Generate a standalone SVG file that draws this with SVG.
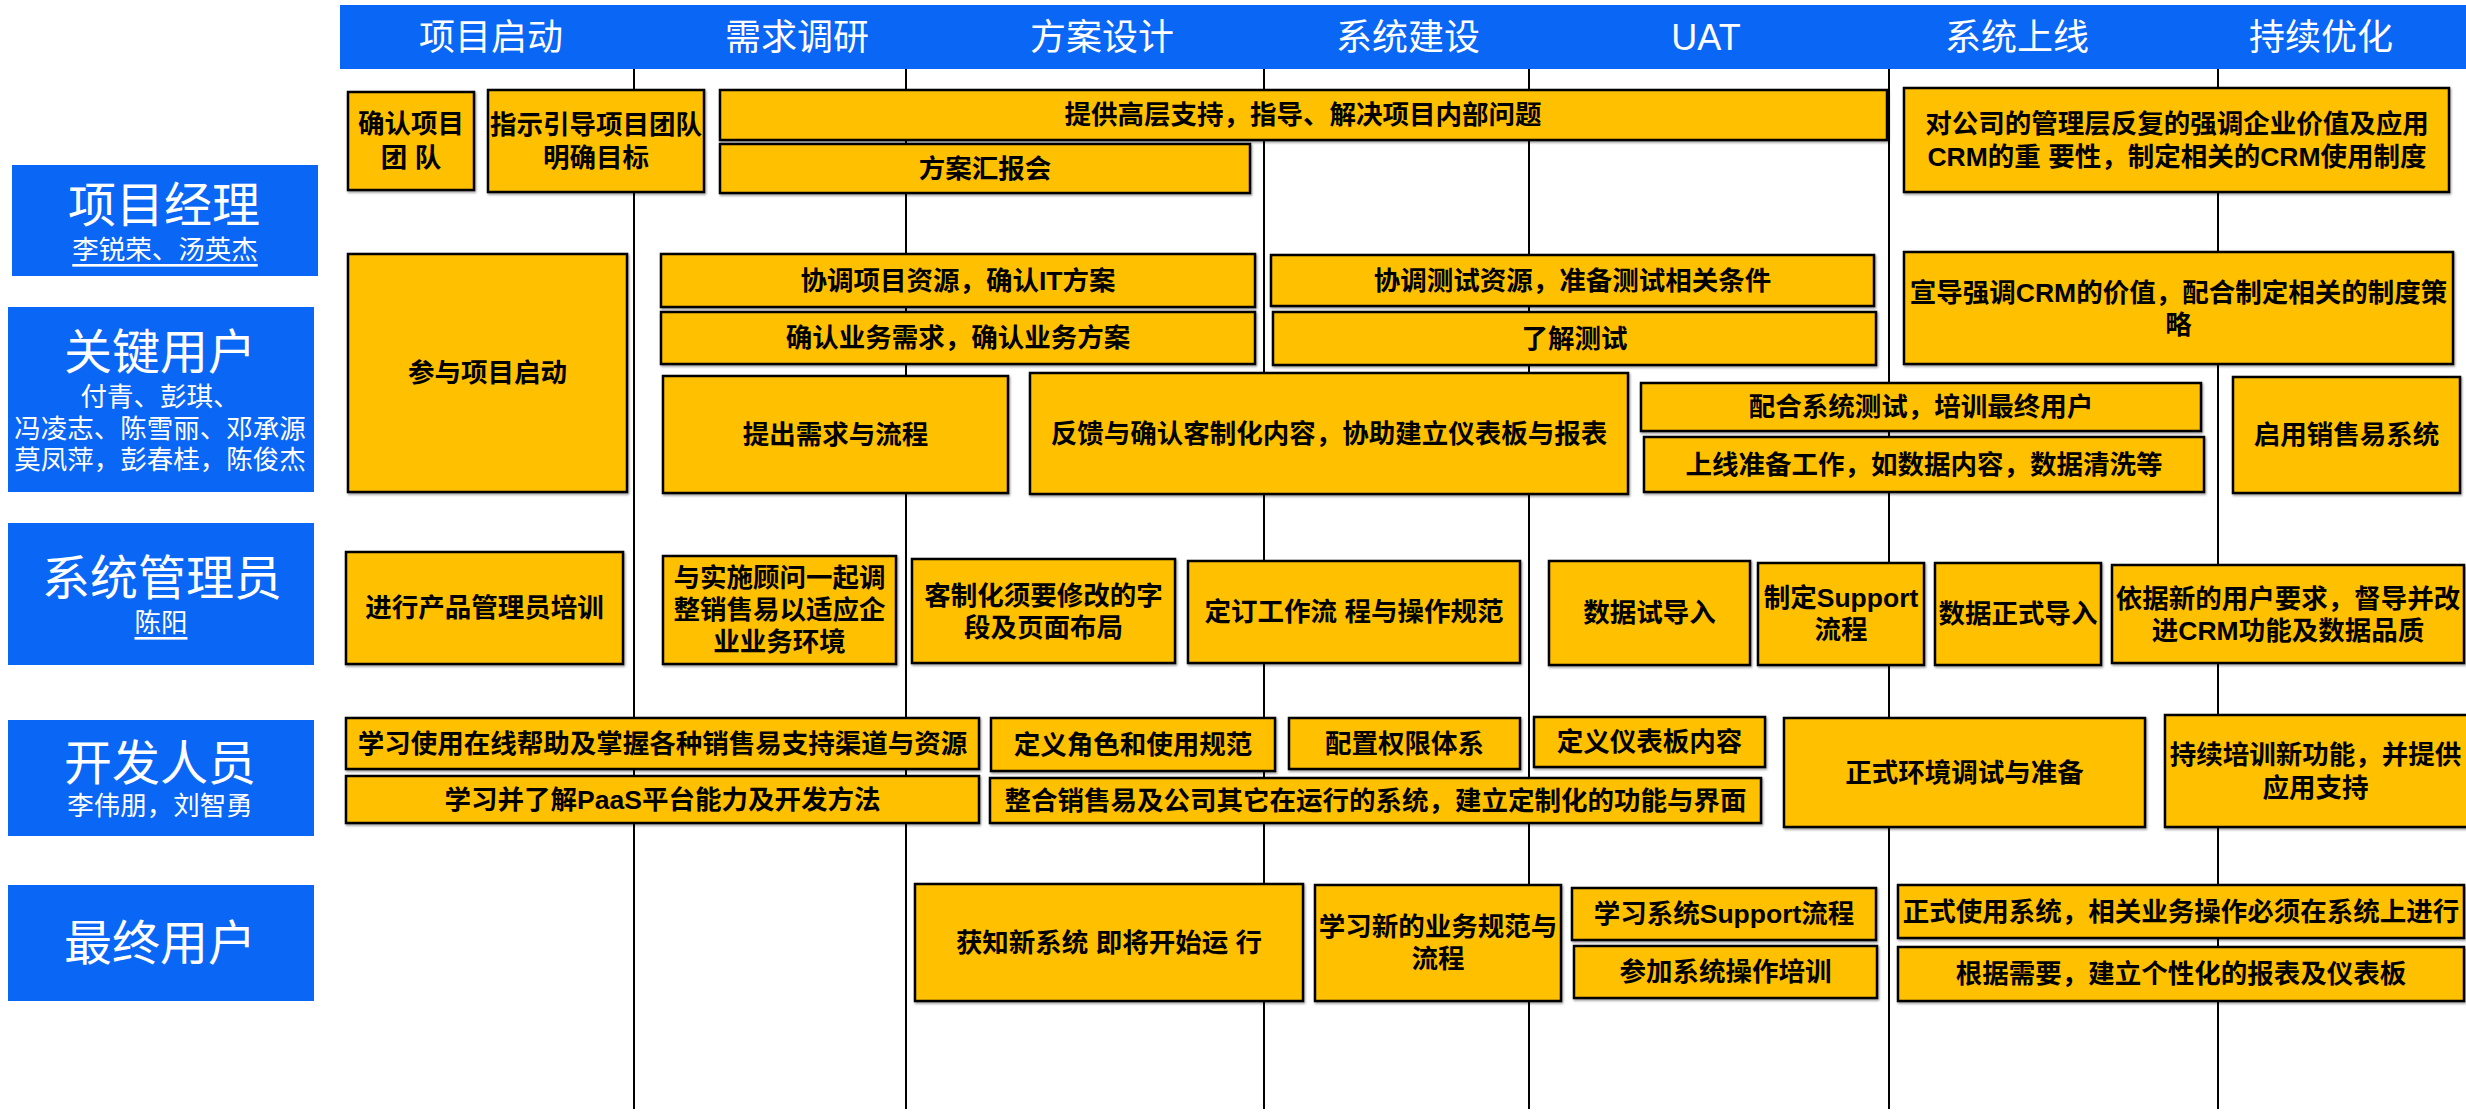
<svg xmlns="http://www.w3.org/2000/svg" width="2466" height="1115" viewBox="0 0 2466 1115">
<defs>
<filter id="sh" x="-5%" y="-5%" width="110%" height="120%">
<feDropShadow dx="1" dy="1.5" stdDeviation="0.8" flood-color="#000" flood-opacity="0.4"/>
</filter>
</defs>
<style>
.hdr{fill:#0A66F5}
.ht{fill:#fff;font-family:"Liberation Sans","Noto Sans CJK SC",sans-serif;font-size:36px;text-anchor:middle;dominant-baseline:central}
.lbl{fill:#0A66F5}
.lt{fill:#fff;font-family:"Liberation Sans","Noto Sans CJK SC",sans-serif;font-size:48px;text-anchor:middle;dominant-baseline:central}
.ln{fill:#fff;font-family:"Liberation Sans","Noto Sans CJK SC",sans-serif;font-size:26.5px;text-anchor:middle;dominant-baseline:central}
.u{text-decoration:underline}
.vl{stroke:#000;stroke-width:2;fill:none}
.box{fill:#FFC000;stroke:#000;stroke-width:2.5;filter:url(#sh)}
.bt{fill:#000;font-family:"Liberation Sans","Noto Sans CJK SC",sans-serif;font-weight:bold;font-size:26.5px;text-anchor:middle;dominant-baseline:central}
</style>
<rect width="2466" height="1115" fill="#fff"/>

<g id="header">
<rect class="hdr" x="340" y="5" width="2126" height="64"/>
<text class="ht" x="491" y="37">项目启动</text>
<text class="ht" x="797" y="37">需求调研</text>
<text class="ht" x="1102" y="37">方案设计</text>
<text class="ht" x="1408" y="37">系统建设</text>
<text class="ht" x="1706" y="37">UAT</text>
<text class="ht" x="2017" y="37">系统上线</text>
<text class="ht" x="2321" y="37">持续优化</text>
</g>

<g id="connectors">
<line class="vl" x1="634" y1="69" x2="634" y2="1109"/>
<line class="vl" x1="906" y1="69" x2="906" y2="1109"/>
<line class="vl" x1="1264" y1="69" x2="1264" y2="1109"/>
<line class="vl" x1="1529" y1="69" x2="1529" y2="1109"/>
<line class="vl" x1="1889" y1="69" x2="1889" y2="1109"/>
<line class="vl" x1="2218" y1="69" x2="2218" y2="1109"/>
</g>

<g id="role-pm">
<rect class="lbl" x="12" y="165" width="306" height="111"/>
<text class="lt" x="164" y="205">项目经理</text>
<text class="ln u" x="165" y="250">李锐荣、汤英杰</text>
</g>
<g id="role-key">
<rect class="lbl" x="8" y="307" width="306" height="185"/>
<text class="lt" x="160" y="352">关键用户</text>
<text class="ln" x="160" y="397">付青、彭琪、</text>
<text class="ln" x="160" y="429">冯凌志、陈雪丽、邓承源</text>
<text class="ln" x="160" y="460">莫凤萍，彭春桂，陈俊杰</text>
</g>
<g id="role-admin">
<rect class="lbl" x="8" y="523" width="306" height="142"/>
<text class="lt" x="162" y="578">系统管理员</text>
<text class="ln u" x="161" y="623">陈阳</text>
</g>
<g id="role-dev">
<rect class="lbl" x="8" y="720" width="306" height="116"/>
<text class="lt" x="160" y="763">开发人员</text>
<text class="ln" x="160" y="806">李伟朋，刘智勇</text>
</g>
<g id="role-user">
<rect class="lbl" x="8" y="885" width="306" height="116"/>
<text class="lt" x="160" y="943">最终用户</text>
</g>

<g id="n1"><rect class="box" x="348" y="92" width="126" height="98"/><text class="bt" x="411"><tspan x="411" y="124">确认项目</tspan><tspan x="411" y="158">团 队</tspan></text></g>
<g id="n2"><rect class="box" x="488" y="90" width="216" height="102"/><text class="bt" x="596"><tspan x="596" y="125">指示引导项目团队</tspan><tspan x="596" y="158">明确目标</tspan></text></g>
<g id="n3"><rect class="box" x="720" y="90" width="1167" height="50"/><text class="bt" x="1303" y="115">提供高层支持，指导、解决项目内部问题</text></g>
<g id="n4"><rect class="box" x="720" y="144" width="530" height="49"/><text class="bt" x="985" y="168.5">方案汇报会</text></g>
<g id="n5"><rect class="box" x="1904" y="88" width="545" height="104"/><text class="bt" x="2177"><tspan x="2177" y="124">对公司的管理层反复的强调企业价值及应用</tspan><tspan x="2177" y="157">CRM的重 要性，制定相关的CRM使用制度</tspan></text></g>

<g id="n6"><rect class="box" x="348" y="254" width="279" height="238"/><text class="bt" x="487.5" y="373">参与项目启动</text></g>
<g id="n7"><rect class="box" x="661" y="254" width="594" height="53"/><text class="bt" x="958" y="280.5">协调项目资源，确认IT方案</text></g>
<g id="n8"><rect class="box" x="661" y="312" width="594" height="52"/><text class="bt" x="958" y="338">确认业务需求，确认业务方案</text></g>
<g id="n9"><rect class="box" x="663" y="376" width="345" height="117"/><text class="bt" x="835.5" y="434.5">提出需求与流程</text></g>
<g id="n10"><rect class="box" x="1030" y="373" width="598" height="121"/><text class="bt" x="1329" y="433.5">反馈与确认客制化内容，协助建立仪表板与报表</text></g>
<g id="n11"><rect class="box" x="1271" y="255" width="603" height="51"/><text class="bt" x="1572.5" y="280.5">协调测试资源，准备测试相关条件</text></g>
<g id="n12"><rect class="box" x="1273" y="312" width="603" height="53"/><text class="bt" x="1574.5" y="338.5">了解测试</text></g>
<g id="n13"><rect class="box" x="1904" y="252" width="549" height="112"/><text class="bt" x="2178.5"><tspan x="2178.5" y="293">宣导强调CRM的价值，配合制定相关的制度策</tspan><tspan x="2178.5" y="325">略</tspan></text></g>
<g id="n14"><rect class="box" x="1641" y="383" width="560" height="48"/><text class="bt" x="1921" y="407">配合系统测试，培训最终用户</text></g>
<g id="n15"><rect class="box" x="1644" y="437" width="560" height="55"/><text class="bt" x="1924" y="464.5">上线准备工作，如数据内容，数据清洗等</text></g>
<g id="n16"><rect class="box" x="2233" y="377" width="227" height="116"/><text class="bt" x="2346.5" y="435">启用销售易系统</text></g>

<g id="n17"><rect class="box" x="346" y="552" width="277" height="112"/><text class="bt" x="484.5" y="608">进行产品管理员培训</text></g>
<g id="n18"><rect class="box" x="663" y="556" width="233" height="108"/><text class="bt" x="779.5"><tspan x="779.5" y="578">与实施顾问一起调</tspan><tspan x="779.5" y="610">整销售易以适应企</tspan><tspan x="779.5" y="642">业业务环境</tspan></text></g>
<g id="n19"><rect class="box" x="912" y="559" width="263" height="104"/><text class="bt" x="1043.5"><tspan x="1043.5" y="596">客制化须要修改的字</tspan><tspan x="1043.5" y="628">段及页面布局</tspan></text></g>
<g id="n20"><rect class="box" x="1188" y="561" width="332" height="102"/><text class="bt" x="1354" y="612">定订工作流 程与操作规范</text></g>
<g id="n21"><rect class="box" x="1549" y="561" width="201" height="104"/><text class="bt" x="1649.5" y="613">数据试导入</text></g>
<g id="n22"><rect class="box" x="1758" y="563" width="166" height="102"/><text class="bt" x="1841"><tspan x="1841" y="598">制定Support</tspan><tspan x="1841" y="630">流程</tspan></text></g>
<g id="n23"><rect class="box" x="1935" y="563" width="166" height="102"/><text class="bt" x="2018" y="614">数据正式导入</text></g>
<g id="n24"><rect class="box" x="2112" y="565" width="352" height="98"/><text class="bt" x="2288"><tspan x="2288" y="599">依据新的用户要求，督导并改</tspan><tspan x="2288" y="631">进CRM功能及数据品质</tspan></text></g>

<g id="n25"><rect class="box" x="346" y="718" width="633" height="51"/><text class="bt" x="662.5" y="743.5">学习使用在线帮助及掌握各种销售易支持渠道与资源</text></g>
<g id="n26"><rect class="box" x="346" y="776" width="633" height="47"/><text class="bt" x="662.5" y="799.5">学习并了解PaaS平台能力及开发方法</text></g>
<g id="n27"><rect class="box" x="991" y="718" width="284" height="53"/><text class="bt" x="1133" y="744.5">定义角色和使用规范</text></g>
<g id="n28"><rect class="box" x="990" y="778" width="771" height="45"/><text class="bt" x="1375.5" y="800.5">整合销售易及公司其它在运行的系统，建立定制化的功能与界面</text></g>
<g id="n29"><rect class="box" x="1289" y="718" width="231" height="51"/><text class="bt" x="1404.5" y="743.5">配置权限体系</text></g>
<g id="n30"><rect class="box" x="1534" y="717" width="231" height="50"/><text class="bt" x="1649.5" y="742">定义仪表板内容</text></g>
<g id="n31"><rect class="box" x="1784" y="718" width="361" height="109"/><text class="bt" x="1964.5" y="772.5">正式环境调试与准备</text></g>
<g id="n32"><rect class="box" x="2165" y="715" width="303" height="112"/><text class="bt" x="2315.5"><tspan x="2315.5" y="755">持续培训新功能，并提供</tspan><tspan x="2315.5" y="788">应用支持</tspan></text></g>

<g id="n33"><rect class="box" x="915" y="884" width="388" height="117"/><text class="bt" x="1109" y="942.5">获知新系统 即将开始运 行</text></g>
<g id="n34"><rect class="box" x="1315" y="885" width="246" height="116"/><text class="bt" x="1438"><tspan x="1438" y="927">学习新的业务规范与</tspan><tspan x="1438" y="959">流程</tspan></text></g>
<g id="n35"><rect class="box" x="1572" y="888" width="304" height="52"/><text class="bt" x="1724" y="914">学习系统Support流程</text></g>
<g id="n36"><rect class="box" x="1574" y="946" width="303" height="52"/><text class="bt" x="1725.5" y="972">参加系统操作培训</text></g>
<g id="n37"><rect class="box" x="1898" y="885" width="566" height="53"/><text class="bt" x="2181" y="911.5">正式使用系统，相关业务操作必须在系统上进行</text></g>
<g id="n38"><rect class="box" x="1898" y="947" width="566" height="54"/><text class="bt" x="2181" y="974">根据需要，建立个性化的报表及仪表板</text></g>
</svg>
